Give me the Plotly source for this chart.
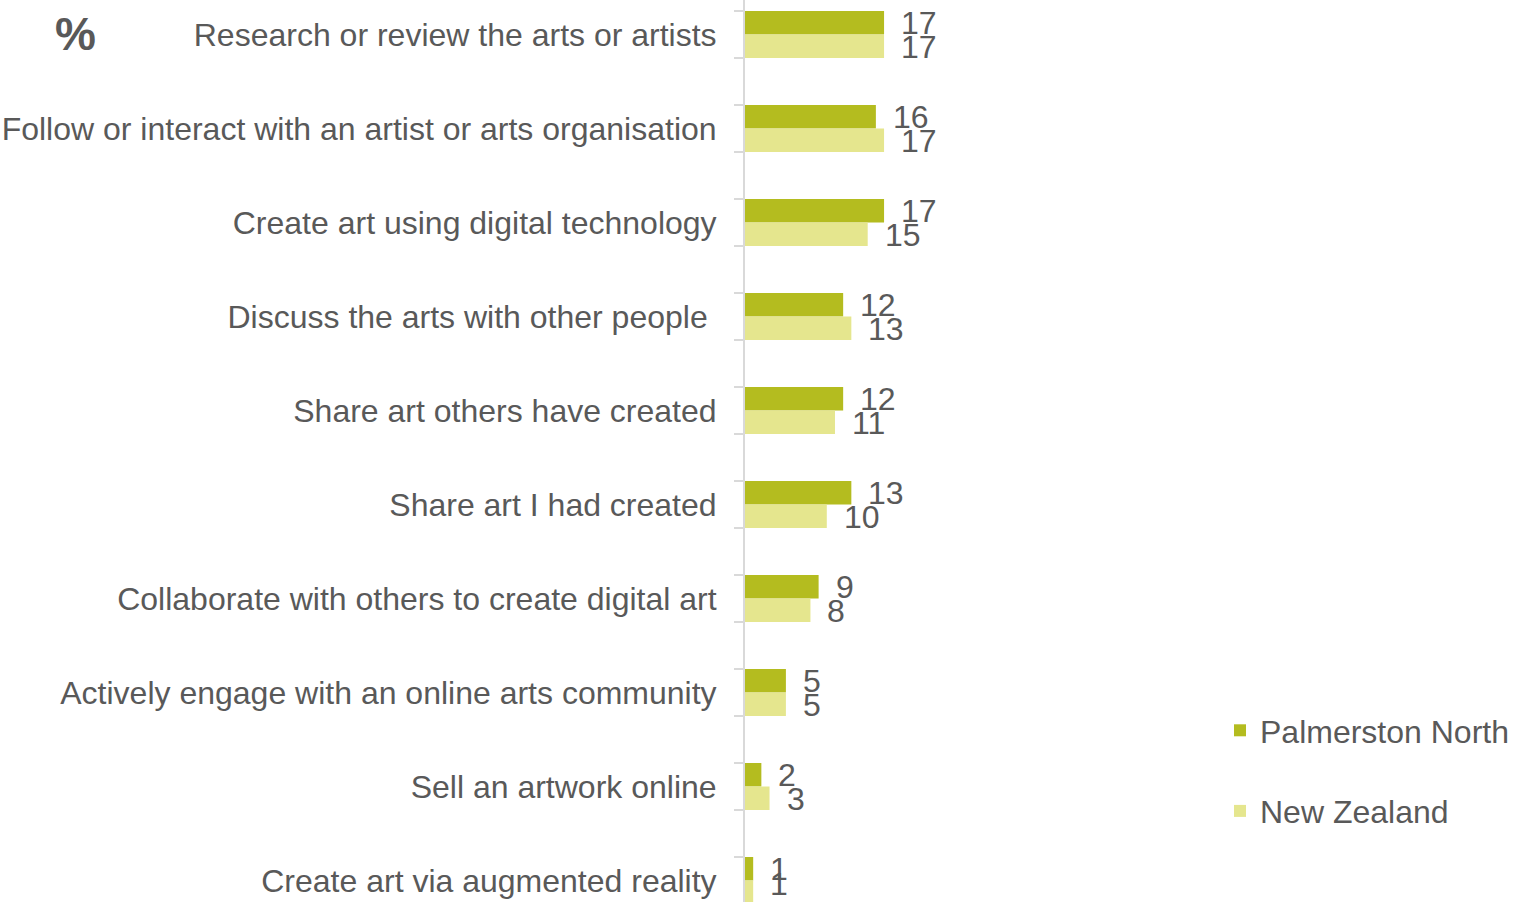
import plotly.graph_objects as go

categories = [
    "Research or review the arts or artists",
    "Follow or interact with an artist or arts organisation",
    "Create art using digital technology",
    "Discuss the arts with other people\u00a0",
    "Share art others have created",
    "Share art I had created",
    "Collaborate with others to create digital art",
    "Actively engage with an online arts community",
    "Sell an artwork online",
    "Create art via augmented reality",
]
palmerston_north = [17, 16, 17, 12, 12, 13, 9, 5, 2, 1]
new_zealand = [17, 17, 15, 13, 11, 10, 8, 5, 3, 1]

PN_COLOR = "#B4BC1F"
NZ_COLOR = "#E5E68E"
TEXT_COLOR = "#595959"
AXIS_COLOR = "#D9D9D9"
FONT = "Liberation Sans, Arial, sans-serif"
FS = 32

W, H = 1516, 902
L = 745
PW = W - L
PX_PER_UNIT = 8.18

ypos = list(range(len(categories)))

fig = go.Figure()
fig.add_trace(go.Bar(
    name="Palmerston North", x=palmerston_north, y=ypos, orientation="h",
    marker=dict(color=PN_COLOR, line=dict(width=0)), legendgroup="pn",
))
fig.add_trace(go.Bar(
    name="New Zealand", x=new_zealand, y=ypos, orientation="h",
    marker=dict(color=NZ_COLOR, line=dict(width=0)), legendgroup="nz",
))

annotations = []
last = len(categories) - 1
for i, (a, b) in enumerate(zip(palmerston_north, new_zealand)):
    annotations.append(dict(x=a, y=i - 0.125, text=str(a), xanchor="left", yanchor="middle",
                            showarrow=False, xshift=15, yshift=0,
                            font=dict(size=FS, color=TEXT_COLOR, family=FONT)))
    # the bottom label is kept inside the chart area (as in the original)
    annotations.append(dict(x=b, y=i + 0.125, text=str(b), xanchor="left", yanchor="middle",
                            showarrow=False, xshift=15, yshift=(8 if i == last else -1),
                            font=dict(size=FS, color=TEXT_COLOR, family=FONT)))
annotations.append(dict(x=(75 - L) / PW, y=1 - 34 / H, xref="paper", yref="paper",
                        xanchor="center", yanchor="middle", text="<b>%</b>",
                        showarrow=False, font=dict(size=46, color=TEXT_COLOR, family=FONT)))

fig.update_layout(
    width=W, height=H,
    margin=dict(l=L, r=0, t=0, b=0),
    paper_bgcolor="white", plot_bgcolor="white",
    font=dict(family=FONT, size=FS, color=TEXT_COLOR),
    barmode="group", bargap=0.5, bargroupgap=0,
    xaxis=dict(range=[0, PW / PX_PER_UNIT], showgrid=False, zeroline=False,
               showticklabels=False, showline=False, ticks=""),
    yaxis=dict(range=[9 + 21.5 / 94, -34.5 / 94], tickmode="array", tickvals=ypos,
               ticktext=categories, ticks="", showgrid=False, zeroline=False,
               showline=True, linecolor=AXIS_COLOR, linewidth=2,
               ticklabelstandoff=20,
               tickfont=dict(size=FS, color=TEXT_COLOR, family=FONT),
               minor=dict(tickmode="linear", tick0=-0.25, dtick=0.5, ticks="outside",
                          ticklen=9, tickwidth=2, tickcolor=AXIS_COLOR, showgrid=False)),
    legend=dict(x=(1220 - L) / PW, y=1 - 703 / H, xanchor="left", yanchor="top",
                font=dict(size=FS, color=TEXT_COLOR, family=FONT),
                tracegroupgap=36, traceorder="grouped", bgcolor="rgba(0,0,0,0)"),
    annotations=annotations,
)

fig.write_html("out.html", config={"displayModeBar": False},
               post_script="document.body.style.margin='0';document.body.style.overflow='hidden';")
